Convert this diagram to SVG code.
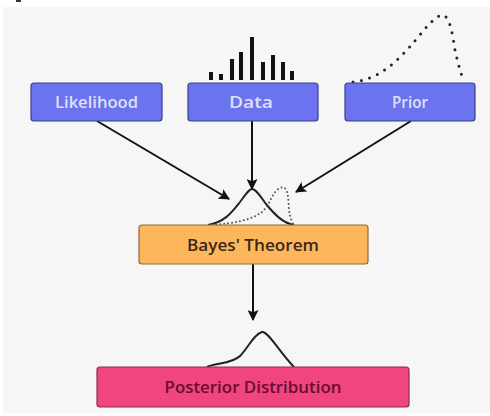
<svg xmlns="http://www.w3.org/2000/svg" width="490" height="416" viewBox="0 0 490 416">
<defs>
<style>
.lbl{font-family:"Open Sans","Noto Sans","Liberation Sans",sans-serif;font-weight:600;font-size:15.5px;text-anchor:middle}
.blue{fill:#6c73ee;stroke:#3b3f8c;stroke-width:1.2}
.conn{stroke:#111;stroke-width:2;fill:none;marker-end:url(#ah)}
.curve{fill:none;stroke:#222;stroke-width:2}
.dots{fill:none;stroke:#222;stroke-width:3;stroke-linecap:round;stroke-dasharray:0 8.5}
.dots2{fill:none;stroke:#555;stroke-width:2;stroke-linecap:round;stroke-dasharray:0 4}
</style>
<marker id="ah" viewBox="0 0 10 10" refX="9" refY="5" markerWidth="5.5" markerHeight="5.5" orient="auto" markerUnits="strokeWidth">
<path d="M0,0 L10,5 L0,10 L2,5 z" fill="#111"/>
</marker>
</defs>
<rect x="0" y="0" width="490" height="416" fill="#ffffff"/>
<rect x="3" y="7" width="487" height="406" fill="#f6f6f6"/>
<rect x="16" y="0" width="5" height="2" fill="#333"/>

<g id="decor">
<g fill="#111">
<rect x="209" y="72" width="4" height="8"/>
<rect x="219" y="74" width="4" height="6"/>
<rect x="230" y="59" width="4" height="21"/>
<rect x="239" y="52" width="4" height="28"/>
<rect x="250" y="37" width="4" height="43"/>
<rect x="261" y="62" width="4" height="18"/>
<rect x="271" y="55" width="4" height="25"/>
<rect x="281" y="62" width="4" height="18"/>
<rect x="290" y="71" width="4" height="9"/>
</g>
<path class="dots" d="M353,82 C375,80 392,66 405,52 C420,36 430,20 441,15 C450,13 453,38 455,50 C458,64 461,74 463,79"/>
<path class="curve" d="M208,225 C225,222 232,212 240,202 C246,194 249,189 252,189 C256,189 260,196 266,204 C275,215 283,223 294,225"/>
<path class="dots2" d="M212,225 C235,223 252,220 262,212 C270,205 272,192 280,188 C289,184 288,200 289,210 C290,218 292,222 294,225"/>
<path class="curve" d="M207,367 C215,363 232,364 240,356 C248,348 254,334 262,332 C268,331 278,350 294,367"/>
</g>

<g id="connectors">
<line class="conn" x1="97" y1="121" x2="229" y2="199"/>
<line class="conn" x1="252" y1="121" x2="252" y2="189"/>
<line class="conn" x1="411" y1="121" x2="296" y2="192"/>
<line class="conn" x1="253" y1="264" x2="253" y2="320"/>
</g>

<g id="likelihood">
<rect class="blue" x="31" y="83" width="131" height="38" rx="3"/>
<text class="lbl" x="96.5" y="107.5" fill="#dfe0fa" textLength="83" lengthAdjust="spacingAndGlyphs">Likelihood</text>
</g>
<g id="data">
<rect class="blue" x="188" y="83" width="130" height="38" rx="3"/>
<text class="lbl" x="251" y="107.5" fill="#dfe0fa" textLength="44" lengthAdjust="spacingAndGlyphs">Data</text>
</g>
<g id="prior">
<rect class="blue" x="345" y="83" width="130" height="38" rx="3"/>
<text class="lbl" x="410" y="107.5" fill="#dfe0fa" textLength="36" lengthAdjust="spacingAndGlyphs">Prior</text>
</g>
<g id="bayes">
<rect x="139" y="225" width="229" height="39" rx="3" fill="#fdb65a" stroke="#8a6a3c" stroke-width="1.2"/>
<text class="lbl" x="253" y="250.5" fill="#3a261c" textLength="132" lengthAdjust="spacingAndGlyphs">Bayes' Theorem</text>
</g>
<g id="posterior">
<rect x="97" y="367" width="312" height="40" rx="3" fill="#f0457f" stroke="#8c2b52" stroke-width="1.2"/>
<text class="lbl" x="253" y="392.5" fill="#6a0c32" textLength="177" lengthAdjust="spacingAndGlyphs">Posterior Distribution</text>
</g>
</svg>
